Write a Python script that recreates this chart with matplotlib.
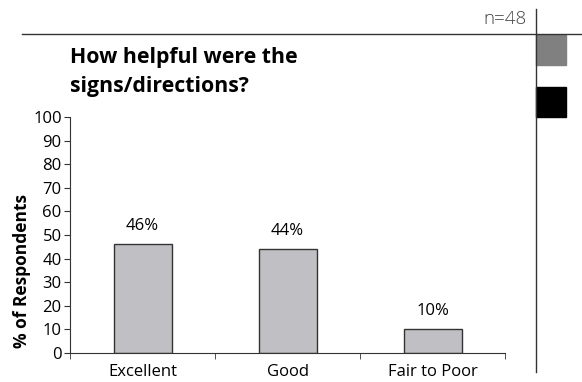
import matplotlib
matplotlib.use('Agg')
import matplotlib.pyplot as plt
from matplotlib.lines import Line2D
from matplotlib.patches import Rectangle
import numpy as np

categories = ['Excellent', 'Good', 'Fair to Poor']
percent = [46, 44, 10]
sample_note = 'n=48'
title = 'How helpful were the\nsigns/directions?'

plt.rcParams['font.family'] = ['Open Sans', 'DejaVu Sans']

W, H = 582, 382
fig = plt.figure(figsize=(W / 100, H / 100), dpi=100)

# plot area in pixels: x 70..505, y 117..353
ax = fig.add_axes([70 / W, 1 - 353 / H, (505 - 70) / W, (353 - 117) / H])

x = np.arange(len(categories))
ax.bar(x, percent, width=0.4, color='#c0c0c4', edgecolor='#333333', linewidth=1)
for xi, v in zip(x, percent):
    ax.text(xi, v + 4.5, f'{v}%', ha='center', va='bottom', fontsize=12)

ax.set_xlim(-0.5, len(categories) - 0.5)
ax.set_ylim(0, 100)
ax.set_yticks(range(0, 101, 10))
ax.set_xticks(x)
ax.set_xticklabels(categories, fontsize=12)
ax.tick_params(axis='x', length=0, pad=8)
ax.set_xticks(np.arange(-0.5, len(categories)), minor=True)
ax.tick_params(axis='x', which='minor', length=4, direction='out', color='#333333')
ax.tick_params(axis='y', length=4, labelsize=12, pad=2, color='#333333')
for side in ['top', 'right']:
    ax.spines[side].set_visible(False)
for side in ['left', 'bottom']:
    ax.spines[side].set_color('#333333')

fig.text(22 / W, 1 - 271 / H, '% of Respondents', rotation=90, ha='center',
         va='center', fontsize=12.5, fontweight='bold')

# title block and frame lines
fig.text(70 / W, 1 - 72 / H, title, ha='left', va='center', fontsize=15.3,
         fontweight='bold', linespacing=1.45)
fig.text(527 / W, 1 - 19 / H, sample_note, ha='right', va='center',
         fontsize=13.5, color='#444444', fontweight='light')
fig.add_artist(Line2D([22 / W, 1], [1 - 34 / H, 1 - 34 / H], color='#333333', lw=1))
fig.add_artist(Line2D([536 / W, 536 / W], [1 - 9 / H, 1 - 372 / H], color='#333333', lw=1))
fig.add_artist(Rectangle((536 / W, 1 - 65 / H), 30 / W, 30 / H, color='#808080',
                         transform=fig.transFigure))
fig.add_artist(Rectangle((536 / W, 1 - 117 / H), 30 / W, 30 / H, color='#000000',
                         transform=fig.transFigure))

fig.savefig('out.png', dpi=100)
